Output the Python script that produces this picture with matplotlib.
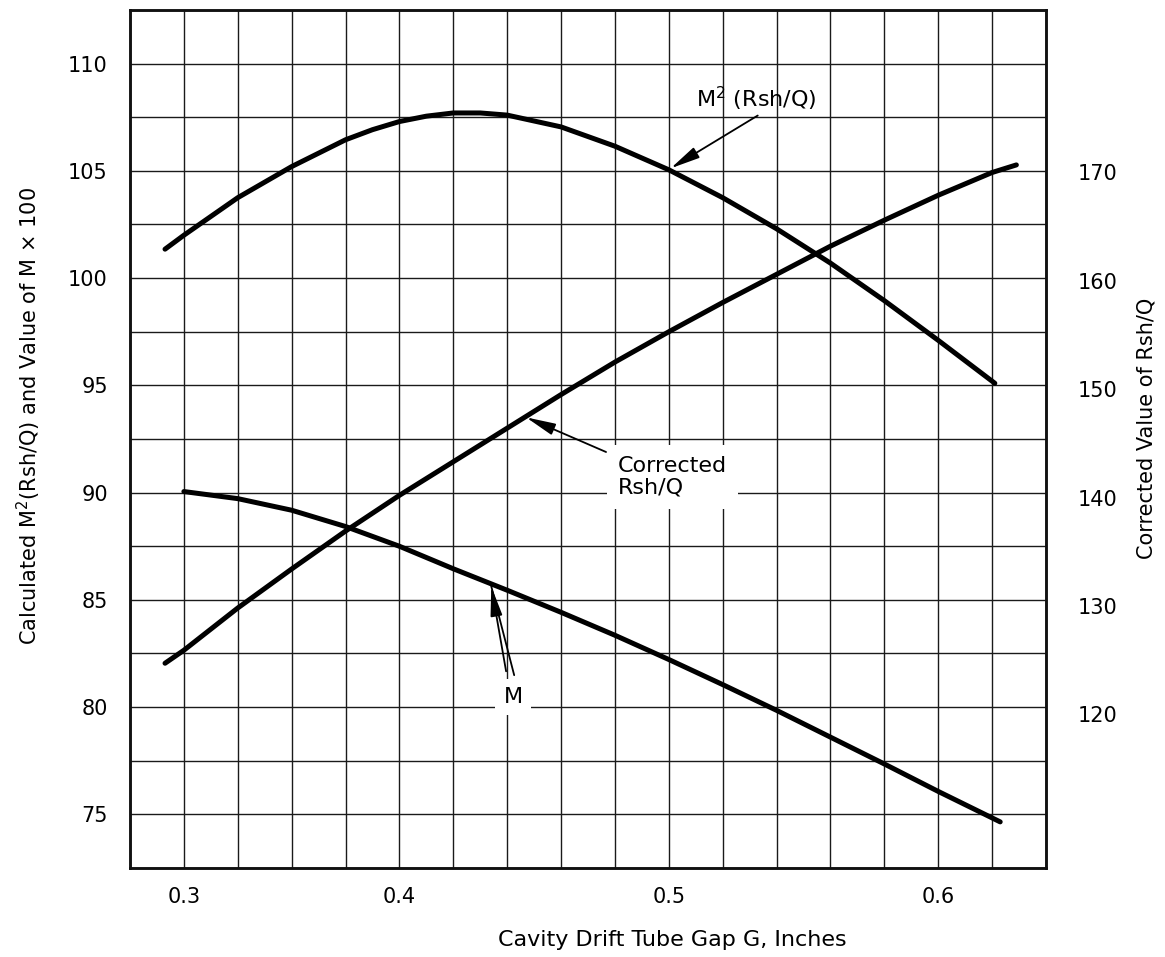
import matplotlib
matplotlib.use("Agg")
import matplotlib.pyplot as plt
from matplotlib.ticker import MultipleLocator, FixedLocator, FixedFormatter

plt.rcParams['font.family'] = ['DejaVu Sans']
plt.rcParams['mathtext.fontset'] = 'custom'
plt.rcParams['mathtext.rm'] = 'DejaVu Sans'
plt.rcParams['mathtext.it'] = 'DejaVu Sans'

# gap G (inches) and M^2 (Rsh/Q), left scale
gap_m2 = [0.313, 0.32, 0.34, 0.36, 0.38, 0.39, 0.40, 0.41, 0.42, 0.43, 0.44,
          0.46, 0.48, 0.50, 0.52, 0.54, 0.56, 0.58, 0.60, 0.621]
m2_rsh = [101.35, 102.0, 103.75, 105.2, 106.45, 106.92, 107.3, 107.55, 107.7, 107.7, 107.6,
          107.05, 106.15, 105.05, 103.75, 102.3, 100.7, 98.95, 97.1, 95.1]

# M x 100, left scale
gap_m = [0.32, 0.34, 0.36, 0.38, 0.40, 0.42, 0.44, 0.46, 0.48, 0.50,
         0.52, 0.54, 0.56, 0.58, 0.60, 0.623]
m_x100 = [90.05, 89.72, 89.18, 88.42, 87.5, 86.45, 85.45, 84.42, 83.35, 82.22,
          81.05, 79.85, 78.6, 77.35, 76.07, 74.65]

# corrected Rsh/Q, right scale
gap_rsh = [0.313, 0.32, 0.34, 0.36, 0.38, 0.40, 0.42, 0.44, 0.46, 0.48,
           0.50, 0.52, 0.54, 0.56, 0.58, 0.60, 0.62, 0.629]
rsh_q = [124.7, 125.9, 129.8, 133.4, 136.9, 140.2, 143.3, 146.4, 149.5, 152.5,
         155.3, 158.0, 160.6, 163.2, 165.6, 167.9, 170.0, 170.7]

xtick_pos = [0.32, 0.4, 0.5, 0.6]
xtick_labels = ['0.3', '0.4', '0.5', '0.6']
left_ticks = [75, 80, 85, 90, 95, 100, 105, 110]
right_ticks = [120, 130, 140, 150, 160, 170]

fig = plt.figure(figsize=(11.65, 9.57), dpi=100)
ax = fig.add_axes([130 / 1165, 89 / 957, 916 / 1165, 858 / 957])
ax2 = ax.twinx()

ax.set_xlim(0.30, 0.64)
ax.set_ylim(72.5, 112.5)
ax2.set_ylim(105.8, 185.0)

ax.xaxis.set_major_locator(FixedLocator(xtick_pos))
ax.xaxis.set_major_formatter(FixedFormatter(xtick_labels))
ax.xaxis.set_minor_locator(MultipleLocator(0.02))
ax.set_yticks(left_ticks)
ax.yaxis.set_minor_locator(MultipleLocator(2.5))
ax2.set_yticks(right_ticks)

ax.grid(True, which='both', color='#1a1a1a', lw=1.0)
ax.tick_params(which='both', length=0, labelsize=15)
ax.tick_params(axis='x', pad=14)
ax.tick_params(axis='y', pad=16)
ax2.tick_params(length=0, labelsize=15, pad=23)

for a in (ax, ax2):
    for sp in a.spines.values():
        sp.set_linewidth(1.8)
        sp.set_color('#111111')

ax.plot(gap_m2, m2_rsh, color='black', lw=3.6, solid_capstyle='round', solid_joinstyle='round')
ax.plot(gap_m, m_x100, color='black', lw=3.6, solid_capstyle='round', solid_joinstyle='round')
ax2.plot(gap_rsh, rsh_q, color='black', lw=3.6, solid_capstyle='round', solid_joinstyle='round')

ax.set_xlabel('Cavity Drift Tube Gap G, Inches', fontsize=16)
ax.xaxis.set_label_coords(0.592, -0.072)
ax.set_ylabel('Calculated M$^2$(Rsh/Q) and Value of M × 100', fontsize=15)
ax.yaxis.set_label_coords(-0.095, 0.527)
ax2.set_ylabel('Corrected Value of Rsh/Q', fontsize=15)
ax2.yaxis.set_label_coords(1.099, 0.512)

head = '-|>,head_length=0.9,head_width=0.18'

# M^2 (Rsh/Q) callout
ax.annotate('', xy=(0.5007, 105.12), xytext=(0.533, 107.58),
            arrowprops=dict(arrowstyle=head, color='black', lw=1.3, mutation_scale=20,
                            shrinkA=0, shrinkB=0))
ax.text(0.510, 108.35, 'M$^2$ (Rsh/Q)', fontsize=16, ha='left', va='center')

# M callout, double leader line
ax.annotate('', xy=(0.4341, 85.63), xytext=(0.4396, 81.67),
            arrowprops=dict(arrowstyle=head, color='black', lw=1.3, mutation_scale=20,
                            shrinkA=0, shrinkB=0))
ax.annotate('', xy=(0.4341, 85.63), xytext=(0.4426, 81.49),
            arrowprops=dict(arrowstyle='-', color='black', lw=1.3, shrinkA=0, shrinkB=0))
ax.text(0.4422, 80.47, 'M', fontsize=16, ha='center', va='center',
        bbox=dict(facecolor='white', edgecolor='none', pad=6))

# corrected Rsh/Q callout
ax2.annotate('', xy=(0.447, 147.4), xytext=(0.4767, 144.2),
             arrowprops=dict(arrowstyle=head, color='black', lw=1.3, mutation_scale=20,
                             shrinkA=0, shrinkB=0))
ax2.text(0.4811, 141.9, 'Corrected\nRsh/Q', fontsize=16, ha='left', va='center',
         linespacing=1.1, bbox=dict(facecolor='white', edgecolor='none', pad=8))

fig.savefig('out.png', dpi=100, facecolor='white')
